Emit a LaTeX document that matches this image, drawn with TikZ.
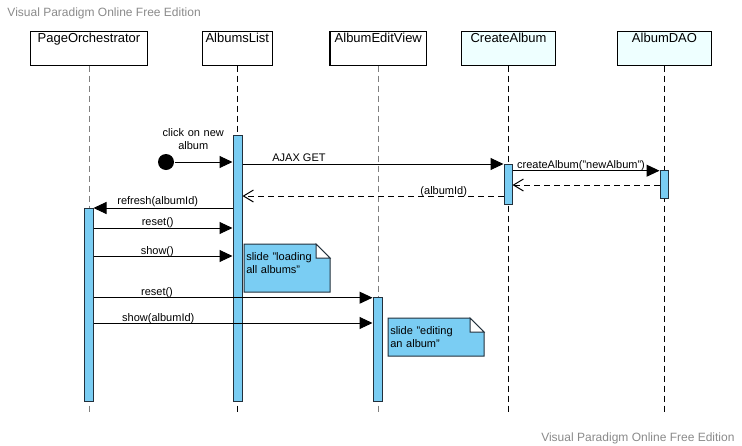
\documentclass[tikz,border=0pt]{standalone}
\usepackage{fontspec}
\setmainfont{Liberation Sans}
\usetikzlibrary{arrows.meta, positioning, calc}
\definecolor{barblue}{HTML}{7ACDF3}
\definecolor{baredge}{HTML}{22303C}
\definecolor{paleaqua}{HTML}{EEFFFF}
\definecolor{linegrey}{HTML}{7F7F7F}
\definecolor{markgrey}{HTML}{8A8A8A}

\begin{document}
\begin{tikzpicture}[x=1pt, y=-1pt, line width=1pt,
  font=\fontsize{11}{13}\selectfont,
  headbox/.style={draw, line width=1.2pt, anchor=north, minimum height=34pt,
    inner xsep=2pt, inner ysep=1.5pt, text height=9.8pt, text depth=20.7pt,
    font=\fontsize{13}{15}\selectfont},
  actbar/.style={draw=baredge, fill=barblue, anchor=north, minimum width=9pt,
    inner sep=0pt},
  msg/.style={-{Triangle[length=13pt, width=12pt]}},
  reply/.style={dash pattern=on 6pt off 4pt,
    -{Straight Barb[length=10pt, width=12pt]}},
  msglabel/.style={anchor=base, inner sep=0pt},
  notetext/.style={anchor=base west, inner sep=0pt, text width=84pt, align=left},
  watermark/.style={text=markgrey, inner sep=0pt, font=\fontsize{12}{14}\selectfont}]
  \useasboundingbox (0,0) rectangle (742,445);
  \node[watermark, anchor=base west] (markTop) at (7,16)
    {Visual Paradigm Online Free Edition};
  \node[watermark, anchor=base east] (markBottom) at (735,441)
    {Visual Paradigm Online Free Edition};
  \foreach \nm/\lab/\cx/\bw/\bg/\lc in {po/PageOrchestrator/89/117/white/linegrey,
      al/AlbumsList/237.3/70/white/black, aev/AlbumEditView/378.3/96.7/white/linegrey,
      ca/CreateAlbum/508.5/93.6/paleaqua/black, dao/AlbumDAO/664.5/94.4/paleaqua/black}{%
    \node[headbox, fill=\bg, minimum width=\bw pt] (\nm) at (\cx,30.5) {\lab};
    \draw[draw=\lc, dash pattern=on 6pt off 4pt] (\nm.south) -- ++(0,348.5);}
  \node[actbar, minimum height=265.5pt] (actAL) at (237.5,135) {};
  \node[actbar, minimum height=192.5pt] (actPO) at (88.5,208) {};
  \node[actbar, minimum width=8pt, minimum height=40pt] (actCA) at (508,164) {};
  \node[actbar, minimum width=8pt, minimum height=28pt] (actDAO) at (664,170) {};
  \node[actbar, minimum height=103.5pt] (actAEV) at (377.5,297) {};
  \node[circle, fill=black, minimum size=16pt, inner sep=0pt] (startDot) at (166,162) {};
  \draw[msg] (startDot) -- (actAL.west |- startDot);
  \foreach \a/\b/\yy in {actAL.east/actCA.west/164, actCA.east/actDAO.west/170.7,
      actAL.west/actPO.east/208, actPO.east/actAL.west/228, actPO.east/actAL.west/256,
      actPO.east/actAEV.west/297.7, actPO.east/actAEV.west/323}
    \draw[msg] (\a |- 0,\yy) -- (\b |- 0,\yy);
  \draw[reply] (actDAO.west |- 0,185) -- (actCA.east |- 0,185);
  \draw[reply] (actCA.west |- 0,196) -- (actAL.east |- 0,196);
  \node[msglabel, text width=70pt, align=center] (lblClick) at (193.3,136)
    {click on new\\album};
  \foreach \nm/\lx/\ly/\lab in {lblAjax/299/161/AJAX GET,
      lblCreate/581/168/createAlbum("newAlbum"), lblId/443.7/194/(albumId),
      lblRefresh/157.7/204.5/refresh(albumId), lblResetA/157.7/225.5/reset(),
      lblShowA/157.3/254/show(), lblResetB/157/295.5/reset(),
      lblShowB/158.3/321.5/show(albumId)}
    \node[msglabel] (\nm) at (\lx,\ly) {\lab};
  \foreach \nm/\nx/\ny/\nw/\nh/\txt in {noteLoad/244/244/86/48/{slide "loading\\all albums"},
      noteEdit/388/318/96/38/{slide "editing\\an album"}}{%
    \filldraw[draw=baredge, fill=barblue] (\nx,\ny) -- (\nx+\nw-14,\ny)
      -- (\nx+\nw,\ny+14) -- (\nx+\nw,\ny+\nh) -- (\nx,\ny+\nh) -- cycle;
    \filldraw[draw=baredge, fill=white] (\nx+\nw-14,\ny) -- (\nx+\nw-14,\ny+14)
      -- (\nx+\nw,\ny+14) -- cycle;
    \node[notetext] (\nm) at (\nx+1.8,\ny+16.3) {\txt};}
\end{tikzpicture}
\end{document}
